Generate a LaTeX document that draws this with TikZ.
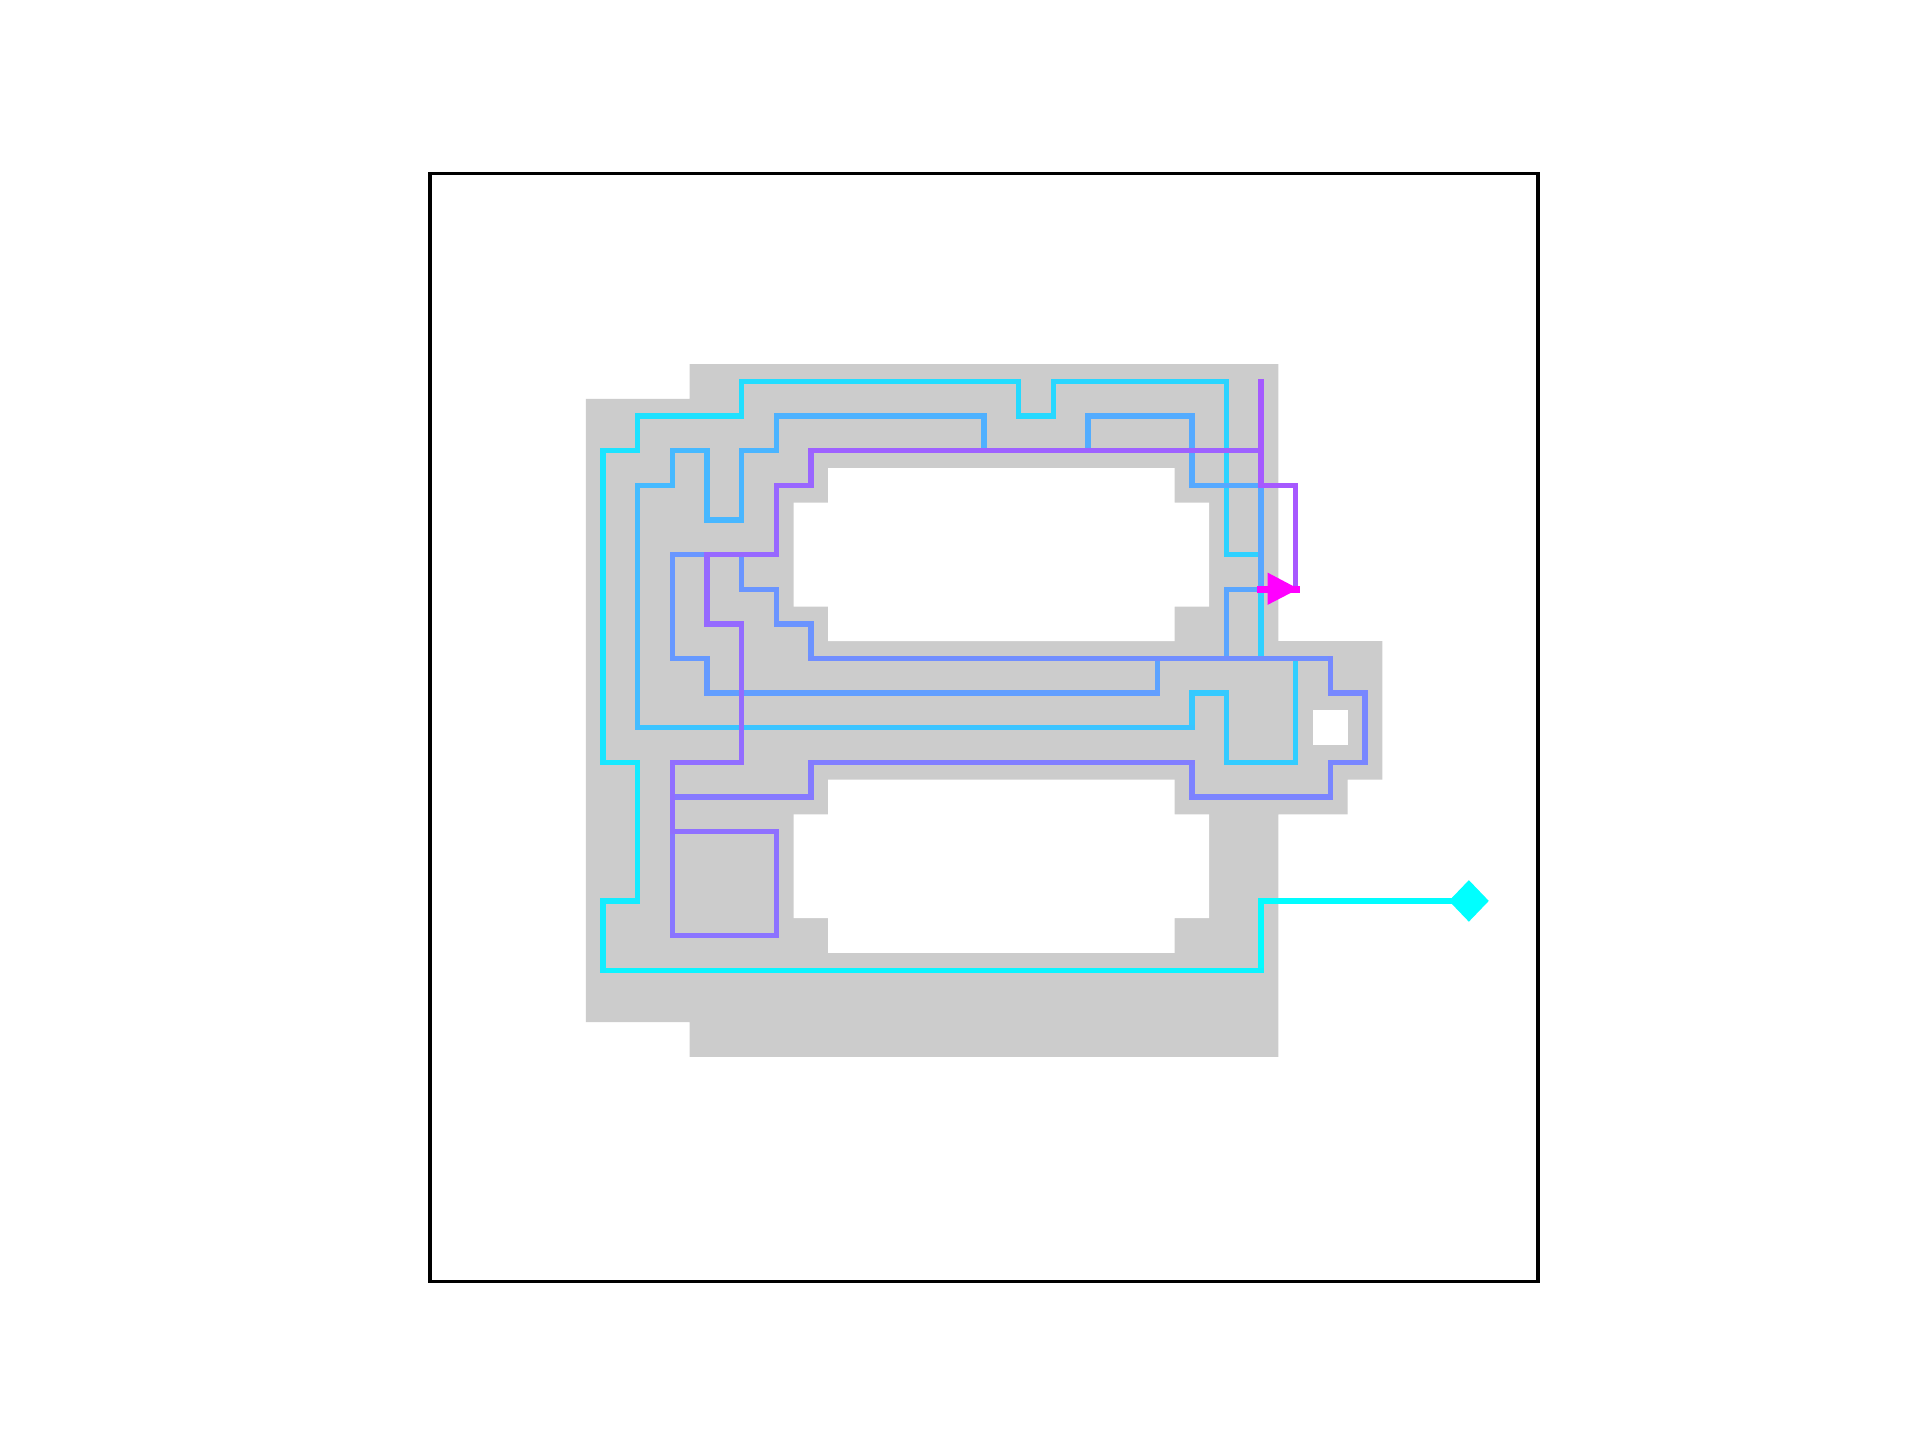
\documentclass[tikz,border=0pt]{standalone}
\definecolor{cyn}{rgb}{0,1,1}
\definecolor{mag}{rgb}{1,0,1}
\definecolor{grayfill}{rgb}{0.8,0.8,0.8}
\begin{document}
\begin{tikzpicture}[x=0.5cm,y=-0.5cm,
  pth/.style={line width=2.2pt, line cap=rect, line join=miter}]
\useasboundingbox (-12.417,-5.016) rectangle (43.028,36.568);
\fill[white] (-12.417,-5.016) rectangle (43.028,36.568);
% free region
\fill[grayfill] (7.5,5.5) -- (24.5,5.5) -- (24.5,13.5) -- (27.5,13.5) -- (27.5,17.5)
  -- (26.5,17.5) -- (26.5,18.5) -- (24.5,18.5) -- (24.5,25.5) -- (7.5,25.5)
  -- (7.5,24.5) -- (4.5,24.5) -- (4.5,6.5) -- (7.5,6.5) -- cycle;
% holes
\fill[white] (11.5,8.5) -- (21.5,8.5) -- (21.5,9.5) -- (22.5,9.5) -- (22.5,12.5)
  -- (21.5,12.5) -- (21.5,13.5) -- (11.5,13.5) -- (11.5,12.5) -- (10.5,12.5)
  -- (10.5,9.5) -- (11.5,9.5) -- cycle;
\fill[white] (11.5,17.5) -- (21.5,17.5) -- (21.5,18.5) -- (22.5,18.5) -- (22.5,21.5)
  -- (21.5,21.5) -- (21.5,22.5) -- (11.5,22.5) -- (11.5,21.5) -- (10.5,21.5)
  -- (10.5,18.5) -- (11.5,18.5) -- cycle;
\fill[white] (25.5,15.5) rectangle (26.5,16.5);
% trajectory
\draw[pth,mag!0.75!cyn] (30,21) -- (24,21);
\draw[pth,mag!1.75!cyn] (24,21) -- (24,23);
\draw[pth,mag!4.4!cyn] (24,23) -- (5,23);
\draw[pth,mag!7!cyn] (5,23) -- (5,21);
\draw[pth,mag!7.4!cyn] (5,21) -- (6,21);
\draw[pth,mag!8!cyn] (6,21) -- (6,17);
\draw[pth,mag!8.6!cyn] (6,17) -- (5,17);
\draw[pth,mag!9.9!cyn] (5,17) -- (5,8);
\draw[pth,mag!11.1!cyn] (5,8) -- (6,8);
\draw[pth,mag!11.4!cyn] (6,8) -- (6,7);
\draw[pth,mag!11.9!cyn] (6,7) -- (9,7);
\draw[pth,mag!12.4!cyn] (9,7) -- (9,6);
\draw[pth,mag!13.5!cyn] (9,6) -- (17,6);
\draw[pth,mag!14.6!cyn] (17,6) -- (17,7);
\draw[pth,mag!14.9!cyn] (17,7) -- (18,7);
\draw[pth,mag!15.1!cyn] (18,7) -- (18,6);
\draw[pth,mag!15.9!cyn] (18,6) -- (23,6);
\draw[pth,mag!17.1!cyn] (23,6) -- (23,11);
\draw[pth,mag!17.9!cyn] (23,11) -- (24,11);
\draw[pth,mag!18.4!cyn] (24,11) -- (24,14);
\draw[pth,mag!18.9!cyn] (24,14) -- (25,14);
\draw[pth,mag!19.4!cyn] (25,14) -- (25,17);
\draw[pth,mag!20!cyn] (25,17) -- (23,17);
\draw[pth,mag!20.5!cyn] (23,17) -- (23,15);
\draw[pth,mag!20.9!cyn] (23,15) -- (22,15);
\draw[pth,mag!21.1!cyn] (22,15) -- (22,16);
\draw[pth,mag!23.25!cyn] (22,16) -- (6,16);
\draw[pth,mag!26.1!cyn] (6,16) -- (6,9);
\draw[pth,mag!27.1!cyn] (6,9) -- (7,9);
\draw[pth,mag!27.4!cyn] (7,9) -- (7,8);
\draw[pth,mag!27.6!cyn] (7,8) -- (8,8);
\draw[pth,mag!28!cyn] (8,8) -- (8,10);
\draw[pth,mag!28.4!cyn] (8,10) -- (9,10);
\draw[pth,mag!28.75!cyn] (9,10) -- (9,8);
\draw[pth,mag!29.1!cyn] (9,8) -- (10,8);
\draw[pth,mag!29.4!cyn] (10,8) -- (10,7);
\draw[pth,mag!30.25!cyn] (10,7) -- (16,7);
\draw[pth,mag!31.1!cyn] (16,7) -- (16,8);
\draw[pth,mag!31.6!cyn] (16,8) -- (19,8);
\draw[pth,mag!32.1!cyn] (19,8) -- (19,7);
\draw[pth,mag!32.6!cyn] (19,7) -- (22,7);
\draw[pth,mag!33.25!cyn] (22,7) -- (22,9);
\draw[pth,mag!33.75!cyn] (22,9) -- (24,9);
\draw[pth,mag!34.4!cyn] (24,9) -- (24,12);
\draw[pth,mag!34.9!cyn] (24,12) -- (23,12);
\draw[pth,mag!35.25!cyn] (23,12) -- (23,14);
\draw[pth,mag!35.75!cyn] (23,14) -- (21,14);
\draw[pth,mag!36.1!cyn] (21,14) -- (21,15);
\draw[pth,mag!37.9!cyn] (21,15) -- (8,15);
\draw[pth,mag!39.6!cyn] (8,15) -- (8,14);
\draw[pth,mag!39.9!cyn] (8,14) -- (7,14);
\draw[pth,mag!40.4!cyn] (7,14) -- (7,11);
\draw[pth,mag!41!cyn] (7,11) -- (9,11);
\draw[pth,mag!41.4!cyn] (9,11) -- (9,12);
\draw[pth,mag!41.6!cyn] (9,12) -- (10,12);
\draw[pth,mag!41.9!cyn] (10,12) -- (10,13);
\draw[pth,mag!42.1!cyn] (10,13) -- (11,13);
\draw[pth,mag!42.4!cyn] (11,13) -- (11,14);
\draw[pth,mag!44.4!cyn] (11,14) -- (26,14);
\draw[pth,mag!46.4!cyn] (26,14) -- (26,15);
\draw[pth,mag!46.6!cyn] (26,15) -- (27,15);
\draw[pth,mag!47!cyn] (27,15) -- (27,17);
\draw[pth,mag!47.4!cyn] (27,17) -- (26,17);
\draw[pth,mag!47.6!cyn] (26,17) -- (26,18);
\draw[pth,mag!48.25!cyn] (26,18) -- (22,18);
\draw[pth,mag!48.9!cyn] (22,18) -- (22,17);
\draw[pth,mag!50.4!cyn] (22,17) -- (11,17);
\draw[pth,mag!51.9!cyn] (11,17) -- (11,18);
\draw[pth,mag!52.5!cyn] (11,18) -- (7,18);
\draw[pth,mag!53.5!cyn] (7,18) -- (7,22);
\draw[pth,mag!54.4!cyn] (7,22) -- (10,22);
\draw[pth,mag!55.1!cyn] (10,22) -- (10,19);
\draw[pth,mag!55.9!cyn] (10,19) -- (7,19);
\draw[pth,mag!56.5!cyn] (7,19) -- (7,17);
\draw[pth,mag!57!cyn] (7,17) -- (9,17);
\draw[pth,mag!57.75!cyn] (9,17) -- (9,13);
\draw[pth,mag!58.4!cyn] (9,13) -- (8,13);
\draw[pth,mag!58.75!cyn] (8,13) -- (8,11);
\draw[pth,mag!59.25!cyn] (8,11) -- (10,11);
\draw[pth,mag!59.75!cyn] (10,11) -- (10,9);
\draw[pth,mag!60.1!cyn] (10,9) -- (11,9);
\draw[pth,mag!60.4!cyn] (11,9) -- (11,8);
\draw[pth,mag!62.1!cyn] (11,8) -- (24,8);
\draw[pth,mag!64!cyn] (24,8) -- (24,6);
\draw[pth,mag!64.6!cyn] (24,6) -- (24,9);
\draw[pth,mag!65.1!cyn] (24,9) -- (25,9);
\draw[pth,mag!65.6!cyn] (25,9) -- (25,12);
% start marker
\fill[cyn] (30,21) ++(-0.575,0) -- ++(0.575,-0.6) -- ++(0.575,0.6) -- ++(-0.575,0.6) -- cycle;
% end marker
\fill[mag] (23.89,11.9) rectangle (25.12,12.1);
\fill[mag] (24.19,11.52) -- (25.08,11.99) -- (24.19,12.45) -- cycle;
% frame
\draw[line width=1.35pt] (0,0) rectangle (32,32);
\end{tikzpicture}
\end{document}
